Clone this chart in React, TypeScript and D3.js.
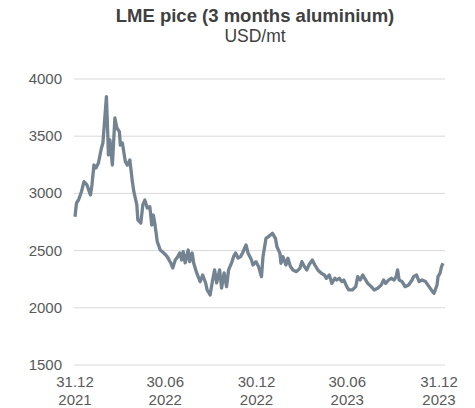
import React from 'react'
import * as d3 from 'd3'

// LME 3 months aluminium, USD/mt
const dates = [
  '2021-12-31', '2022-01-03', '2022-01-07', '2022-01-13', '2022-01-18', '2022-01-24', '2022-01-31',
  '2022-02-03', '2022-02-07', '2022-02-11', '2022-02-16', '2022-02-22', '2022-02-25', '2022-03-04',
  '2022-03-07', '2022-03-08', '2022-03-11', '2022-03-16', '2022-03-21', '2022-03-25', '2022-03-30',
  '2022-04-01', '2022-04-05', '2022-04-11', '2022-04-15', '2022-04-20', '2022-04-25', '2022-04-28',
  '2022-05-04', '2022-05-06', '2022-05-12', '2022-05-16', '2022-05-20', '2022-05-25', '2022-05-30',
  '2022-06-03', '2022-06-06', '2022-06-09', '2022-06-14', '2022-06-20', '2022-06-27', '2022-07-04',
  '2022-07-11', '2022-07-15', '2022-07-20', '2022-07-25', '2022-07-29', '2022-08-02', '2022-08-05',
  '2022-08-09', '2022-08-15', '2022-08-18', '2022-08-23', '2022-08-26', '2022-09-01', '2022-09-08',
  '2022-09-13', '2022-09-19', '2022-09-22', '2022-09-28', '2022-10-03', '2022-10-07', '2022-10-11',
  '2022-10-17', '2022-10-21', '2022-10-26', '2022-10-31', '2022-11-04', '2022-11-10', '2022-11-14',
  '2022-11-18', '2022-11-23', '2022-11-28', '2022-12-02', '2022-12-09', '2022-12-13', '2022-12-20',
  '2022-12-23', '2022-12-29', '2023-01-03', '2023-01-09', '2023-01-12', '2023-01-18', '2023-01-23',
  '2023-01-27', '2023-01-31', '2023-02-06', '2023-02-09', '2023-02-15', '2023-02-17', '2023-02-21',
  '2023-02-27', '2023-03-03', '2023-03-08', '2023-03-13', '2023-03-20', '2023-03-27', '2023-03-31',
  '2023-04-05', '2023-04-10', '2023-04-14', '2023-04-21', '2023-04-26', '2023-05-02', '2023-05-09',
  '2023-05-15', '2023-05-19', '2023-05-25', '2023-05-30', '2023-06-05', '2023-06-09', '2023-06-14',
  '2023-06-19', '2023-06-23', '2023-06-29', '2023-07-03', '2023-07-10', '2023-07-17', '2023-07-21',
  '2023-07-26', '2023-07-31', '2023-08-04', '2023-08-10', '2023-08-17', '2023-08-23', '2023-08-30',
  '2023-09-06', '2023-09-11', '2023-09-15', '2023-09-21', '2023-09-26', '2023-10-02', '2023-10-06',
  '2023-10-09', '2023-10-12', '2023-10-18', '2023-10-24', '2023-10-31', '2023-11-07', '2023-11-10',
  '2023-11-16', '2023-11-21', '2023-11-27', '2023-12-04', '2023-12-11', '2023-12-18', '2023-12-21',
  '2023-12-27', '2023-12-29', '2024-01-02', '2024-01-05', '2024-01-08',
]

const prices = [
  2796, 2916, 2942, 3015, 3103, 3074, 2986,
  3074, 3248, 3222, 3266, 3397, 3441, 3846,
  3484, 3336, 3467, 3248, 3659, 3572, 3540,
  3423, 3441, 3277, 3248, 3292, 3103, 3015,
  2899, 2768, 2741, 2899, 2942, 2872, 2884,
  2724, 2811, 2740, 2578, 2505, 2479, 2447,
  2392, 2348, 2418, 2447, 2479, 2418, 2491,
  2392, 2505, 2403, 2479, 2392, 2305, 2229,
  2287, 2217, 2156, 2112, 2243, 2331, 2217,
  2331, 2173, 2305, 2185, 2331, 2392, 2447,
  2479, 2435, 2447, 2479, 2549, 2479, 2418,
  2374, 2403, 2360, 2272, 2447, 2607, 2622,
  2636, 2651, 2607, 2534, 2476, 2389, 2447,
  2374, 2433, 2360, 2331, 2316, 2345, 2403,
  2360, 2331, 2374, 2418, 2374, 2331, 2302,
  2287, 2258, 2287, 2214, 2258, 2243, 2258,
  2229, 2243, 2185, 2156, 2156, 2185, 2272,
  2243, 2287, 2258, 2214, 2185, 2156, 2170,
  2199, 2243, 2214, 2243, 2258, 2243, 2272,
  2331, 2243, 2229, 2185, 2199, 2243, 2272,
  2287, 2229, 2243, 2229, 2185, 2141, 2127,
  2199, 2272, 2302, 2360, 2389,
]

const yTicks = [1500, 2000, 2500, 3000, 3500, 4000]
const xTickDates = ['2021-12-31', '2022-06-30', '2022-12-30', '2023-06-30', '2023-12-31']
const xTickLabels = [['31.12', '2021'], ['30.06', '2022'], ['30.12', '2022'], ['30.06', '2023'], ['31.12', '2023']]

const W = 475
const H = 408
const font = 'Arial, "Liberation Sans", sans-serif'

const App = () => {
  const parse = d3.timeParse('%Y-%m-%d')
  const data = dates.map((d, i) => ({ date: parse(d) as Date, value: prices[i] }))

  const x = d3.scaleTime()
    .domain([parse('2021-12-31') as Date, parse('2024-01-12') as Date])
    .range([75, 445])
  const y = d3.scaleLinear().domain([1500, 4000]).range([365, 79])

  const line = d3.line<{ date: Date, value: number }>()
    .x(d => x(d.date))
    .y(d => y(d.value))

  return (
    <svg width={W} height={H} style={{ position: 'absolute', left: 0, top: 0, background: '#fff' }}>
      <text x={255} y={22} textAnchor="middle" fontFamily={font} fontWeight="bold" fontSize={18.5} fill="#404040">
        LME pice (3 months aluminium)
      </text>
      <text x={255} y={42} textAnchor="middle" fontFamily={font} fontSize={17.5} fill="#404040">
        USD/mt
      </text>

      {yTicks.map(t => (
        <g key={t}>
          <line x1={74} x2={445} y1={y(t)} y2={y(t)} stroke="#d9d9d9" strokeWidth={1} />
          <text x={62} y={y(t) + 5} textAnchor="end" fontFamily={font} fontSize={15} fill="#595959">{t}</text>
        </g>
      ))}

      {xTickDates.map((d, i) => (
        <text key={d} x={x(parse(d) as Date)} y={387} textAnchor="middle" fontFamily={font} fontSize={15} fill="#595959">
          <tspan x={x(parse(d) as Date)}>{xTickLabels[i][0]}</tspan>
          <tspan x={x(parse(d) as Date)} dy={18}>{xTickLabels[i][1]}</tspan>
        </text>
      ))}

      <path d={line(data) ?? ''} fill="none" stroke="#738391" strokeWidth={3.3} strokeLinejoin="round" />
    </svg>
  )
}

export default App
